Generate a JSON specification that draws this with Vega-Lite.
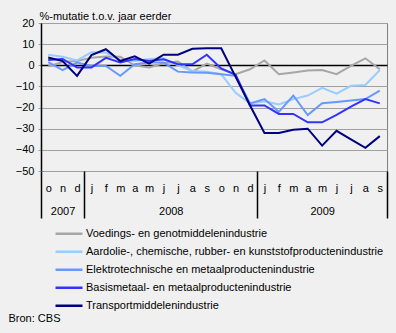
{
  "$schema": "https://vega.github.io/schema/vega-lite/v6.json",
  "width": 346,
  "height": 148,
  "autosize": "none",
  "padding": {"left": 41, "top": 23, "right": 9, "bottom": 162},
  "background": "#f0f0f0",
  "config": {
    "font": "Liberation Sans",
    "view": {"stroke": "#808080", "strokeWidth": 1},
    "axis": {"labelFont": "Liberation Sans", "labelFontSize": 11, "labelColor": "#000000", "titleFont": "Liberation Sans", "titleFontSize": 11, "titleFontWeight": "normal", "titleColor": "#000000"},
    "legend": {"labelFont": "Liberation Sans", "labelFontSize": 11, "labelColor": "#000000"}
  },
  "datasets": {
    "reeks": [
      {"s": "Voedings- en genotmiddelenindustrie", "t": 0, "v": -0.5}, {"s": "Voedings- en genotmiddelenindustrie", "t": 1, "v": 1.5}, {"s": "Voedings- en genotmiddelenindustrie", "t": 2, "v": 2}, {"s": "Voedings- en genotmiddelenindustrie", "t": 3, "v": 3.6}, {"s": "Voedings- en genotmiddelenindustrie", "t": 4, "v": 4.2}, {"s": "Voedings- en genotmiddelenindustrie", "t": 5, "v": 4}, {"s": "Voedings- en genotmiddelenindustrie", "t": 6, "v": 0}, {"s": "Voedings- en genotmiddelenindustrie", "t": 7, "v": -1}, {"s": "Voedings- en genotmiddelenindustrie", "t": 8, "v": 1}, {"s": "Voedings- en genotmiddelenindustrie", "t": 9, "v": 1.8}, {"s": "Voedings- en genotmiddelenindustrie", "t": 10, "v": -3}, {"s": "Voedings- en genotmiddelenindustrie", "t": 11, "v": 0.8}, {"s": "Voedings- en genotmiddelenindustrie", "t": 12, "v": -1.9}, {"s": "Voedings- en genotmiddelenindustrie", "t": 13, "v": -4.2}, {"s": "Voedings- en genotmiddelenindustrie", "t": 14, "v": -1.9}, {"s": "Voedings- en genotmiddelenindustrie", "t": 15, "v": 2.3}, {"s": "Voedings- en genotmiddelenindustrie", "t": 16, "v": -4.2}, {"s": "Voedings- en genotmiddelenindustrie", "t": 17, "v": -3.4}, {"s": "Voedings- en genotmiddelenindustrie", "t": 18, "v": -2.5}, {"s": "Voedings- en genotmiddelenindustrie", "t": 19, "v": -2.2}, {"s": "Voedings- en genotmiddelenindustrie", "t": 20, "v": -4.2}, {"s": "Voedings- en genotmiddelenindustrie", "t": 21, "v": -0.3}, {"s": "Voedings- en genotmiddelenindustrie", "t": 22, "v": 3.3}, {"s": "Voedings- en genotmiddelenindustrie", "t": 23, "v": -1.9},
      {"s": "Aardolie-, chemische, rubber- en kunststofproductenindustrie", "t": 0, "v": 5}, {"s": "Aardolie-, chemische, rubber- en kunststofproductenindustrie", "t": 1, "v": 4}, {"s": "Aardolie-, chemische, rubber- en kunststofproductenindustrie", "t": 2, "v": 2.3}, {"s": "Aardolie-, chemische, rubber- en kunststofproductenindustrie", "t": 3, "v": 6.2}, {"s": "Aardolie-, chemische, rubber- en kunststofproductenindustrie", "t": 4, "v": 6}, {"s": "Aardolie-, chemische, rubber- en kunststofproductenindustrie", "t": 5, "v": 2.5}, {"s": "Aardolie-, chemische, rubber- en kunststofproductenindustrie", "t": 6, "v": 2}, {"s": "Aardolie-, chemische, rubber- en kunststofproductenindustrie", "t": 7, "v": 3}, {"s": "Aardolie-, chemische, rubber- en kunststofproductenindustrie", "t": 8, "v": 3.3}, {"s": "Aardolie-, chemische, rubber- en kunststofproductenindustrie", "t": 9, "v": 0}, {"s": "Aardolie-, chemische, rubber- en kunststofproductenindustrie", "t": 10, "v": -2.7}, {"s": "Aardolie-, chemische, rubber- en kunststofproductenindustrie", "t": 11, "v": -3}, {"s": "Aardolie-, chemische, rubber- en kunststofproductenindustrie", "t": 12, "v": -4.2}, {"s": "Aardolie-, chemische, rubber- en kunststofproductenindustrie", "t": 13, "v": -13}, {"s": "Aardolie-, chemische, rubber- en kunststofproductenindustrie", "t": 14, "v": -18}, {"s": "Aardolie-, chemische, rubber- en kunststofproductenindustrie", "t": 15, "v": -17}, {"s": "Aardolie-, chemische, rubber- en kunststofproductenindustrie", "t": 16, "v": -18.5}, {"s": "Aardolie-, chemische, rubber- en kunststofproductenindustrie", "t": 17, "v": -16}, {"s": "Aardolie-, chemische, rubber- en kunststofproductenindustrie", "t": 18, "v": -14.3}, {"s": "Aardolie-, chemische, rubber- en kunststofproductenindustrie", "t": 19, "v": -10.7}, {"s": "Aardolie-, chemische, rubber- en kunststofproductenindustrie", "t": 20, "v": -13.4}, {"s": "Aardolie-, chemische, rubber- en kunststofproductenindustrie", "t": 21, "v": -9.7}, {"s": "Aardolie-, chemische, rubber- en kunststofproductenindustrie", "t": 22, "v": -9.3}, {"s": "Aardolie-, chemische, rubber- en kunststofproductenindustrie", "t": 23, "v": -2.3},
      {"s": "Elektrotechnische en metaalproductenindustrie", "t": 0, "v": 1.5}, {"s": "Elektrotechnische en metaalproductenindustrie", "t": 1, "v": -2.3}, {"s": "Elektrotechnische en metaalproductenindustrie", "t": 2, "v": 1.3}, {"s": "Elektrotechnische en metaalproductenindustrie", "t": 3, "v": -0.3}, {"s": "Elektrotechnische en metaalproductenindustrie", "t": 4, "v": -0.3}, {"s": "Elektrotechnische en metaalproductenindustrie", "t": 5, "v": -5}, {"s": "Elektrotechnische en metaalproductenindustrie", "t": 6, "v": 0.5}, {"s": "Elektrotechnische en metaalproductenindustrie", "t": 7, "v": 1.3}, {"s": "Elektrotechnische en metaalproductenindustrie", "t": 8, "v": 1.3}, {"s": "Elektrotechnische en metaalproductenindustrie", "t": 9, "v": -3}, {"s": "Elektrotechnische en metaalproductenindustrie", "t": 10, "v": -3.4}, {"s": "Elektrotechnische en metaalproductenindustrie", "t": 11, "v": -3.5}, {"s": "Elektrotechnische en metaalproductenindustrie", "t": 12, "v": -4.2}, {"s": "Elektrotechnische en metaalproductenindustrie", "t": 13, "v": -5}, {"s": "Elektrotechnische en metaalproductenindustrie", "t": 14, "v": -18}, {"s": "Elektrotechnische en metaalproductenindustrie", "t": 15, "v": -16}, {"s": "Elektrotechnische en metaalproductenindustrie", "t": 16, "v": -22}, {"s": "Elektrotechnische en metaalproductenindustrie", "t": 17, "v": -14.3}, {"s": "Elektrotechnische en metaalproductenindustrie", "t": 18, "v": -23.5}, {"s": "Elektrotechnische en metaalproductenindustrie", "t": 19, "v": -18}, {"s": "Elektrotechnische en metaalproductenindustrie", "t": 20, "v": -17.4}, {"s": "Elektrotechnische en metaalproductenindustrie", "t": 21, "v": -16.7}, {"s": "Elektrotechnische en metaalproductenindustrie", "t": 22, "v": -16}, {"s": "Elektrotechnische en metaalproductenindustrie", "t": 23, "v": -12},
      {"s": "Basismetaal- en metaalproductenindustrie", "t": 0, "v": 2.5}, {"s": "Basismetaal- en metaalproductenindustrie", "t": 1, "v": 3}, {"s": "Basismetaal- en metaalproductenindustrie", "t": 2, "v": -1}, {"s": "Basismetaal- en metaalproductenindustrie", "t": 3, "v": -1}, {"s": "Basismetaal- en metaalproductenindustrie", "t": 4, "v": 3.5}, {"s": "Basismetaal- en metaalproductenindustrie", "t": 5, "v": 1.3}, {"s": "Basismetaal- en metaalproductenindustrie", "t": 6, "v": 3}, {"s": "Basismetaal- en metaalproductenindustrie", "t": 7, "v": 2}, {"s": "Basismetaal- en metaalproductenindustrie", "t": 8, "v": 2.8}, {"s": "Basismetaal- en metaalproductenindustrie", "t": 9, "v": 0.5}, {"s": "Basismetaal- en metaalproductenindustrie", "t": 10, "v": 0.5}, {"s": "Basismetaal- en metaalproductenindustrie", "t": 11, "v": 5}, {"s": "Basismetaal- en metaalproductenindustrie", "t": 12, "v": -1.5}, {"s": "Basismetaal- en metaalproductenindustrie", "t": 13, "v": -4.5}, {"s": "Basismetaal- en metaalproductenindustrie", "t": 14, "v": -19}, {"s": "Basismetaal- en metaalproductenindustrie", "t": 15, "v": -19}, {"s": "Basismetaal- en metaalproductenindustrie", "t": 16, "v": -23}, {"s": "Basismetaal- en metaalproductenindustrie", "t": 17, "v": -23}, {"s": "Basismetaal- en metaalproductenindustrie", "t": 18, "v": -27}, {"s": "Basismetaal- en metaalproductenindustrie", "t": 19, "v": -27}, {"s": "Basismetaal- en metaalproductenindustrie", "t": 20, "v": -23.5}, {"s": "Basismetaal- en metaalproductenindustrie", "t": 21, "v": -19.5}, {"s": "Basismetaal- en metaalproductenindustrie", "t": 22, "v": -16}, {"s": "Basismetaal- en metaalproductenindustrie", "t": 23, "v": -18},
      {"s": "Transportmiddelenindustrie", "t": 0, "v": 3.7}, {"s": "Transportmiddelenindustrie", "t": 1, "v": 2}, {"s": "Transportmiddelenindustrie", "t": 2, "v": -5}, {"s": "Transportmiddelenindustrie", "t": 3, "v": 4.8}, {"s": "Transportmiddelenindustrie", "t": 4, "v": 7.6}, {"s": "Transportmiddelenindustrie", "t": 5, "v": 2}, {"s": "Transportmiddelenindustrie", "t": 6, "v": 4.2}, {"s": "Transportmiddelenindustrie", "t": 7, "v": 0.8}, {"s": "Transportmiddelenindustrie", "t": 8, "v": 5}, {"s": "Transportmiddelenindustrie", "t": 9, "v": 5}, {"s": "Transportmiddelenindustrie", "t": 10, "v": 7.8}, {"s": "Transportmiddelenindustrie", "t": 11, "v": 8}, {"s": "Transportmiddelenindustrie", "t": 12, "v": 8}, {"s": "Transportmiddelenindustrie", "t": 13, "v": -5.5}, {"s": "Transportmiddelenindustrie", "t": 14, "v": -19}, {"s": "Transportmiddelenindustrie", "t": 15, "v": -32}, {"s": "Transportmiddelenindustrie", "t": 16, "v": -32}, {"s": "Transportmiddelenindustrie", "t": 17, "v": -30.5}, {"s": "Transportmiddelenindustrie", "t": 18, "v": -30}, {"s": "Transportmiddelenindustrie", "t": 19, "v": -38}, {"s": "Transportmiddelenindustrie", "t": 20, "v": -31}, {"s": "Transportmiddelenindustrie", "t": 21, "v": -35}, {"s": "Transportmiddelenindustrie", "t": 22, "v": -39}, {"s": "Transportmiddelenindustrie", "t": 23, "v": -33.5}
    ],
    "jaren": [
      {"b": -0.5}, {"b": 2.5}, {"b": 14.5}, {"b": 23.5}
    ]
  },
  "layer": [
    {
      "data": {"name": "reeks"},
      "mark": {"type": "line", "strokeWidth": 2},
      "encoding": {
        "x": {
          "field": "t", "type": "quantitative",
          "scale": {"domain": [-0.5, 23.5], "nice": false, "zero": false},
          "axis": {
            "orient": "bottom", "title": null, "grid": false, "domain": false, "ticks": false,
            "values": [0, 1, 2, 3, 4, 5, 6, 7, 8, 9, 10, 11, 12, 13, 14, 15, 16, 17, 18, 19, 20, 21, 22, 23],
            "labelExpr": "['o','n','d','j','f','m','a','m','j','j','a','s','o','n','d','j','f','m','a','m','j','j','a','s'][datum.value]",
            "labelPadding": 11, "labelFlush": false, "labelOverlap": false, "labelBound": false
          }
        },
        "y": {
          "field": "v", "type": "quantitative",
          "scale": {"domain": [-50, 20], "nice": false, "zero": false},
          "axis": {
            "values": [-50, -40, -30, -20, -10, 0, 10, 20],
            "grid": true,
            "gridColor": {"condition": {"test": "datum.value === 0", "value": "#000000"}, "value": "#a0a0a0"},
            "gridWidth": {"condition": {"test": "datum.value === 0", "value": 1.5}, "value": 1},
            "domainColor": "#000000", "domainWidth": 1.5,
            "tickColor": "#a0a0a0", "tickSize": 3, "labelPadding": 4,
            "title": "%-mutatie t.o.v. jaar eerder",
            "titleAngle": 0, "titleAlign": "left", "titleBaseline": "alphabetic",
            "titleX": -2, "titleY": -4
          }
        },
        "color": {
          "field": "s", "type": "nominal",
          "scale": {
            "domain": ["Voedings- en genotmiddelenindustrie", "Aardolie-, chemische, rubber- en kunststofproductenindustrie", "Elektrotechnische en metaalproductenindustrie", "Basismetaal- en metaalproductenindustrie", "Transportmiddelenindustrie"],
            "range": ["#a6a6a6", "#99ccff", "#6699ff", "#3333ff", "#000080"]
          },
          "legend": {
            "title": null, "orient": "none", "legendX": 13, "legendY": 202, "padding": 0,
            "symbolType": "stroke", "symbolSize": 729, "symbolStrokeWidth": 2.5,
            "labelOffset": 2, "rowPadding": 0, "clipHeight": 17.5, "labelLimit": 400, "direction": "vertical"
          }
        }
      }
    },
    {
      "data": {"name": "jaren"},
      "mark": {"type": "rule", "opacity": 0},
      "encoding": {
        "x": {
          "field": "b", "type": "quantitative",
          "scale": {"domain": [-0.5, 23.5], "nice": false, "zero": false},
          "axis": {
            "orient": "bottom", "grid": false, "domain": false,
            "values": [-0.5, 2.5, 14.5, 23.5],
            "tickSize": 47, "tickColor": "#000000", "tickWidth": 1.5,
            "labelExpr": "datum.value < 0 ? '2007' : datum.value < 3 ? '2008' : datum.value < 15 ? '2009' : ''",
            "labelAlign": "center", "labelBaseline": "top",
            "labelOffset": {"condition": [{"test": "datum.value < 0", "value": 21.6}, {"test": "datum.value < 3", "value": 86.5}], "value": 64.9},
            "labelPadding": -13, "labelFlush": false, "labelOverlap": false, "labelBound": false,
            "title": "Bron: CBS", "titleAlign": "left", "titleBaseline": "middle", "titleAnchor": "start",
            "titleX": -33, "titleY": 147
          }
        }
      }
    }
  ],
  "resolve": {"scale": {"x": "independent"}, "axis": {"x": "independent"}}
}
